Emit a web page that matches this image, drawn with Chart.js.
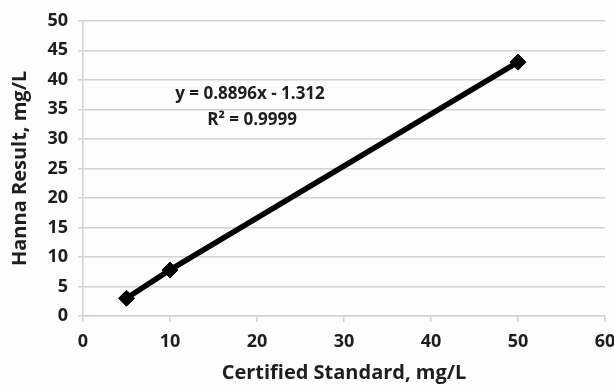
<!DOCTYPE html>
<html>
<head>
<meta charset="utf-8">
<script src="https://cdn.jsdelivr.net/npm/chart.js@4"></script>
<style>
html,body{margin:0;padding:0;background:#fdfdfe;}
#wrap{width:614px;height:385px;position:relative;}
</style>
</head>
<body>
<div id="wrap"><canvas id="c" width="614" height="385"></canvas></div>
<script>
const certified = [5, 10, 50];
const hannaResult = [3.0, 7.8, 43.0];
const xTicks = [0, 10, 20, 30, 40, 50, 60];
const yTicks = [0, 5, 10, 15, 20, 25, 30, 35, 40, 45, 50];
const equationText = ["y = 0.8896x - 1.312", "R\u00b2 = 0.9999"];
const xTitle = "Certified Standard, mg/L";
const yTitle = "Hanna Result, mg/L";

const FONT = "'Open Sans', 'DejaVu Sans', sans-serif";
const TXT = "#1e1e1e";
const GRID = "#d6d1cd";

const eqPlugin = {
  id: 'eq',
  afterDatasetsDraw(chart) {
    const {ctx, scales} = chart;
    const x = scales.x.getPixelForValue(19.2);
    ctx.save();
    ctx.fillStyle = TXT;
    ctx.font = "bold 17px " + FONT;
    ctx.textAlign = 'center';
    ctx.textBaseline = 'middle';
    ctx.fillText(equationText[0], x, scales.y.getPixelForValue(37.6));
    ctx.fillText(equationText[1], x + 2, scales.y.getPixelForValue(33.1));
    ctx.restore();
  }
};

new Chart(document.getElementById('c'), {
  type: 'scatter',
  data: {
    datasets: [{
      data: certified.map((v, i) => ({x: v, y: hannaResult[i]})),
      showLine: true,
      borderColor: '#000',
      backgroundColor: '#000',
      borderWidth: 5.5,
      pointStyle: 'rectRot',
      pointRadius: 8,
      pointHoverRadius: 8,
      pointBorderWidth: 1
    }]
  },
  options: {
    responsive: false,
    animation: false,
    plugins: {legend: {display: false}, tooltip: {enabled: false}},
    layout: {padding: {left: 0, right: 9, top: 20, bottom: 0}},
    scales: {
      x: {
        type: 'linear', min: 0, max: 60,
        afterBuildTicks(s) { s.ticks = xTicks.map(v => ({value: v})); },
        afterFit(s) { s.height = 69; s.paddingRight = 0; s.paddingLeft = 0; },
        grid: {display: true, drawOnChartArea: false, drawTicks: true, tickLength: 6, color: GRID, lineWidth: 1.5},
        border: {color: GRID, width: 1.5},
        ticks: {color: TXT, font: {family: FONT, size: 18, weight: 'bold'}, padding: 9, maxRotation: 0},
        title: {display: true, text: xTitle, color: TXT, font: {family: FONT, size: 20, weight: 'bold'}, padding: {top: 0, bottom: 0}}
      },
      y: {
        type: 'linear', min: 0, max: 50,
        afterBuildTicks(s) { s.ticks = yTicks.map(v => ({value: v})); },
        afterFit(s) { s.width = 83; },
        grid: {color: GRID, lineWidth: 1.5, tickLength: 5},
        border: {color: GRID, width: 1.5},
        ticks: {color: TXT, font: {family: FONT, size: 18, weight: 'bold'}, padding: 10},
        title: {display: true, text: yTitle, color: TXT, font: {family: FONT, size: 20, weight: 'bold'}, padding: {top: 8, bottom: 0}}
      }
    }
  },
  plugins: [eqPlugin]
});
</script>
</body>
</html>
